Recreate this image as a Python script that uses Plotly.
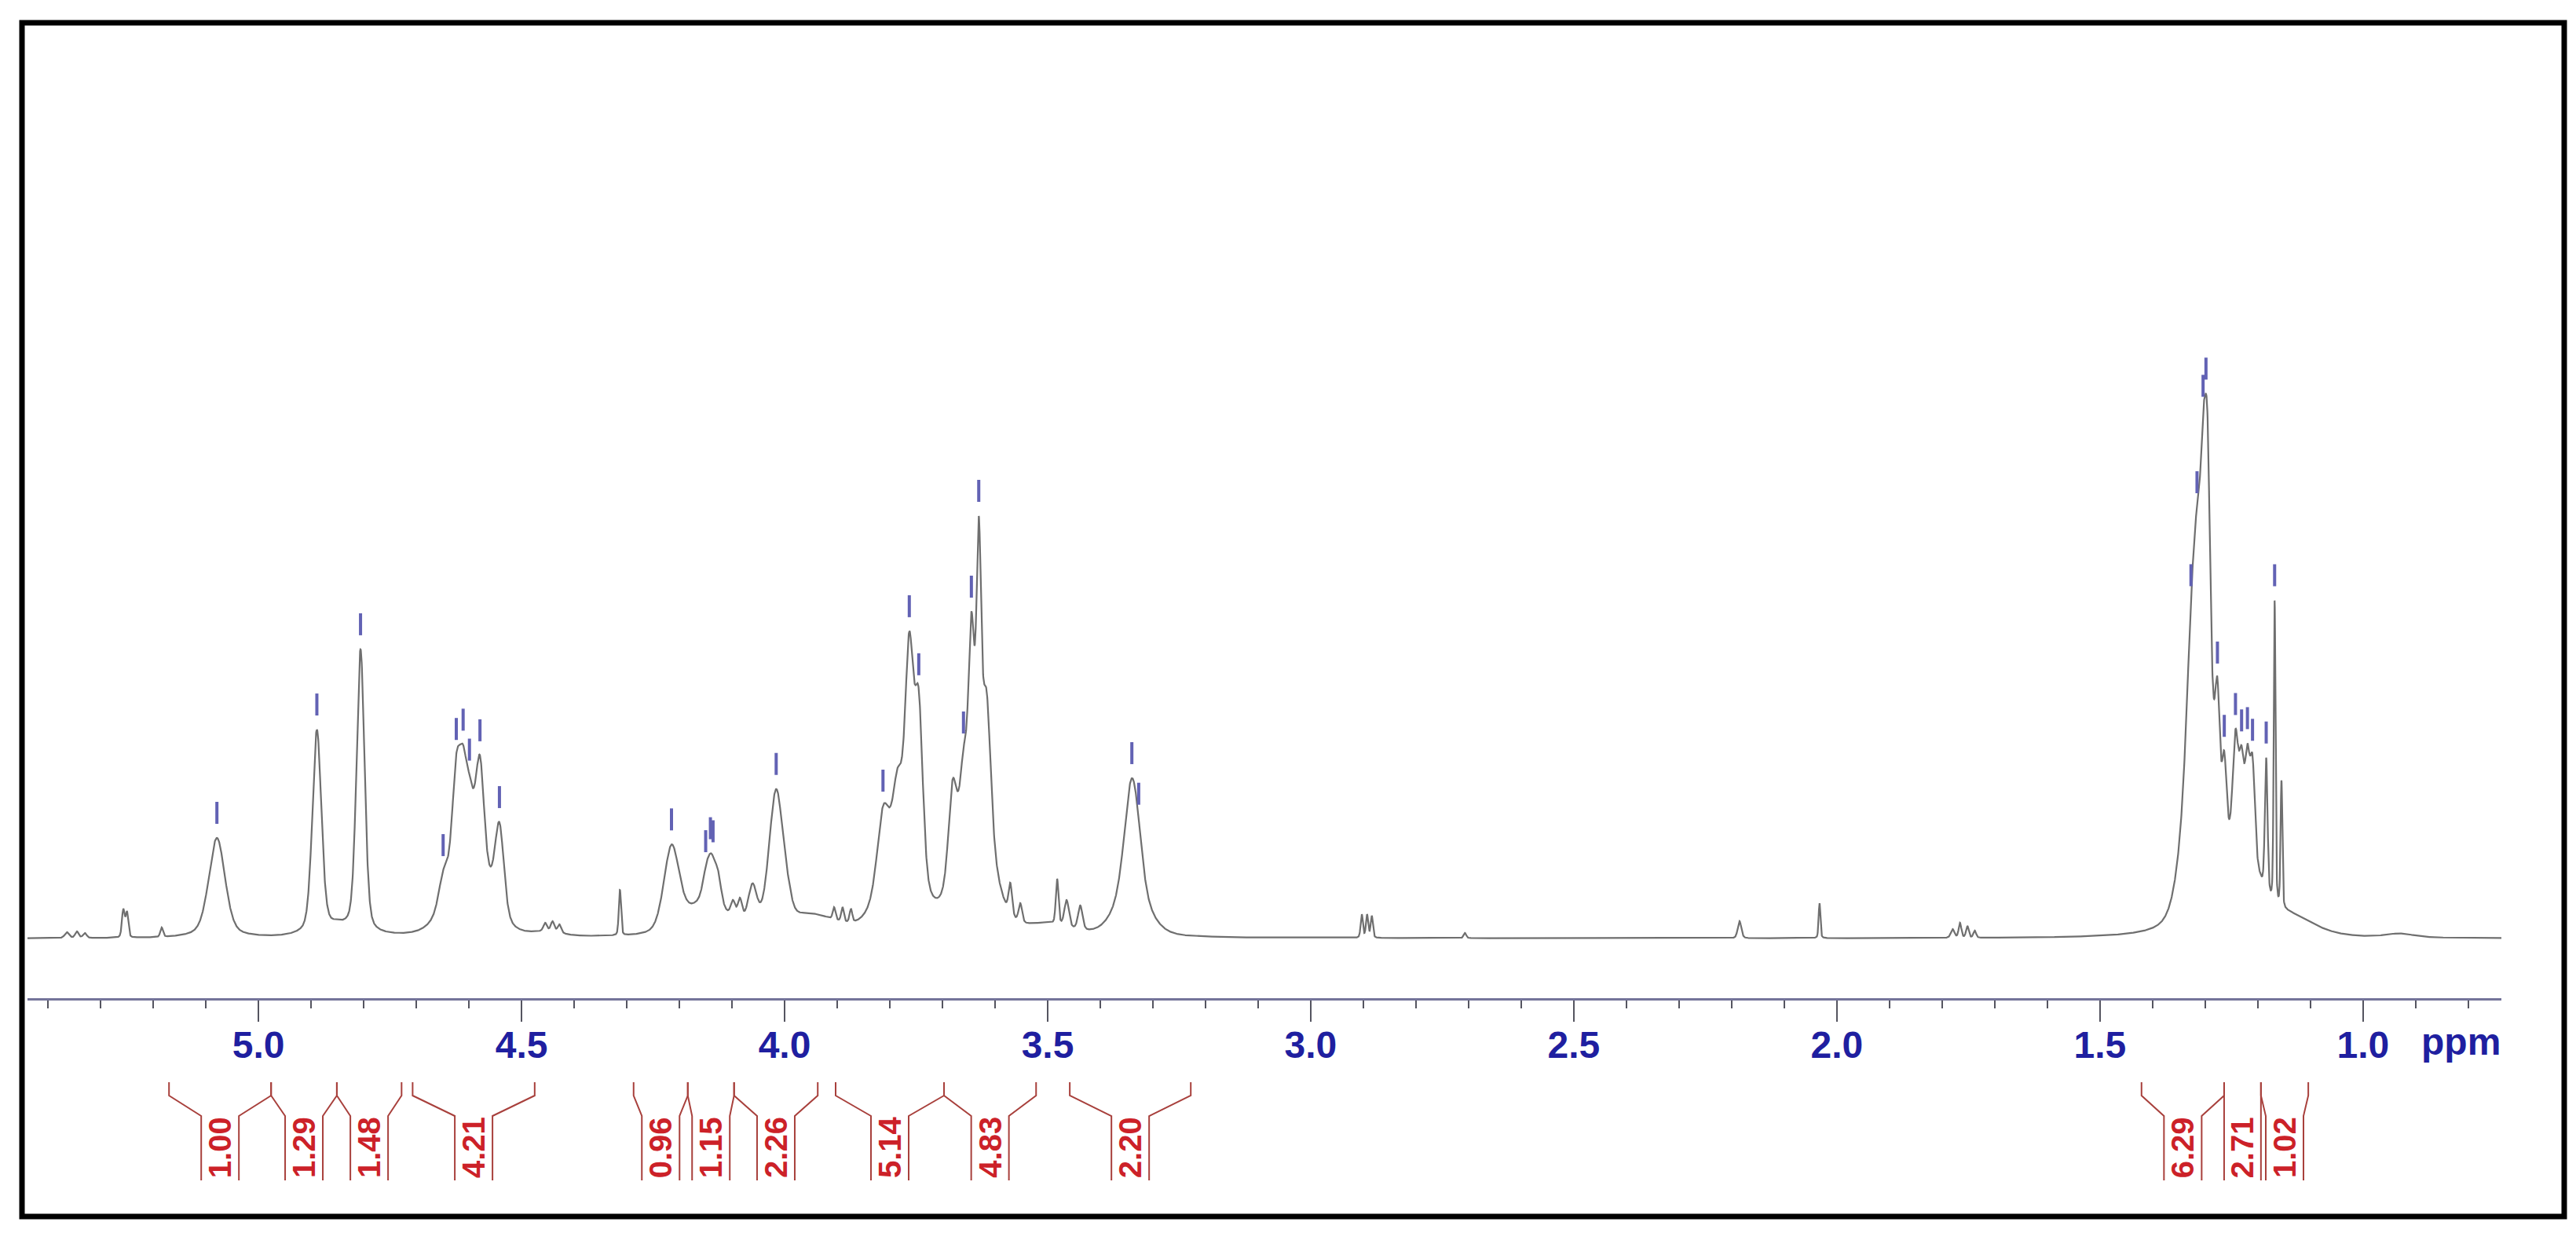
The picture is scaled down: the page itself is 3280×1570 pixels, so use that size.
import numpy as np
import plotly.graph_objects as go

# ---------------- data ----------------
PPM_LEFT = 5.439
PPM_RIGHT = 0.737

# resolved lines: position (ppm), height above baseline (px units), half width (ppm)
peak_ppm = [5.364, 5.345, 5.330, 5.257, 5.250, 5.184, 5.079, 4.889, 4.852, 4.806,
            4.649, 4.624, 4.611, 4.599, 4.579, 4.542, 4.455, 4.441, 4.428, 4.313,
            4.215, 4.150, 4.139, 4.126, 4.098, 4.085, 4.061, 4.016, 3.993, 3.906,
            3.890, 3.874, 3.813, 3.785, 3.763, 3.745, 3.681, 3.660, 3.645, 3.631,
            3.616, 3.571, 3.552, 3.482, 3.464, 3.438, 3.340, 3.326, 2.903, 2.893,
            2.884, 2.707, 2.185, 2.033, 1.780, 1.766, 1.752, 1.738, 1.327, 1.3155,
            1.304, 1.2955, 1.2767, 1.2637, 1.2424, 1.2308, 1.2197, 1.2100, 1.184, 1.168,
            1.155, 0.93]
peak_height = [8, 9, 7, 38, 35, 14, 128, 266, 25, 368,
               85, 235, 245, 218, 243, 146, 20, 22, 18, 62,
               122, 92, 108, 85, 48, 50, 65, 190, 78, 40,
               40, 38, 180, 220, 391, 317, 193, 243, 416, 538,
               318, 71, 45, 76, 49, 42, 204, 145, 31, 31,
               29, 7, 22, 45, 12, 20, 16, 10, 411, 553,
               671, 668, 355, 258, 276, 253, 258, 240, 230, 431,
               202, 6]
peak_hwhm = [0.005, 0.004, 0.004, 0.003, 0.003, 0.003, 0.018, 0.010, 0.006, 0.009,
             0.010, 0.009, 0.008, 0.008, 0.009, 0.010, 0.004, 0.004, 0.004, 0.0025,
             0.017, 0.008, 0.010, 0.007, 0.005, 0.005, 0.010, 0.016, 0.008, 0.003,
             0.003, 0.003, 0.013, 0.010, 0.009, 0.009, 0.009, 0.007, 0.006, 0.005,
             0.009, 0.004, 0.004, 0.003, 0.005, 0.005, 0.016, 0.010, 0.0025, 0.0025,
             0.0025, 0.003, 0.004, 0.002, 0.004, 0.003, 0.003, 0.003, 0.010, 0.008,
             0.006, 0.006, 0.005, 0.005, 0.006, 0.005, 0.005, 0.005, 0.003, 0.002,
             0.002, 0.03]

# broad underlying humps (position, half width)
hump_ppm = [5.08, 4.85, 4.60, 4.45, 4.15, 3.95, 3.78, 3.64, 3.50, 3.34, 1.31, 1.23, 1.15]
hump_hwhm = [0.05, 0.05, 0.04, 0.03, 0.05, 0.06, 0.04, 0.035, 0.05, 0.035, 0.028, 0.03, 0.06]

# profile points at valleys and flanks (ppm, height)
profile_ppm = [5.42, 5.30, 5.22, 5.13, 4.99, 4.860, 4.845, 4.76, 4.70, 4.67,
               4.589, 4.561, 4.518, 4.489, 4.38, 4.34, 4.29, 4.185, 4.109, 4.075,
               3.978, 3.963, 3.935, 3.840, 3.803, 3.710, 3.693, 3.604, 3.590, 3.582,
               3.521, 3.50, 3.40, 3.308, 3.297, 3.20, 3.00, 2.50, 1.60, 1.45,
               1.391, 1.372, 1.352, 1.339, 1.284, 1.270, 1.258, 1.237, 1.226, 1.215,
               1.197, 1.174, 1.161, 1.145, 1.113, 1.05, 0.95, 0.80]
profile_height = [0, 1, 1, 6, 9, 22, 25, 15, 12, 48,
                  168, 108, 28, 8, 0, 2, 5, 32, 50, 55,
                  40, 31, 25, 67, 147, 52, 125, 147, 63, 49,
                  22, 18, 30, 58, 13, 0, 0, 0, 0, 3,
                  8, 33, 125, 278, 280, 176, 171, 225, 220, 215,
                  125, 54, 43, 38, 23, 10, 6, 0]

# picked peaks (blue marks)
pick_ppm = [5.079, 4.889, 4.806, 4.649, 4.624, 4.611, 4.599, 4.579, 4.542, 4.215,
            4.150, 4.141, 4.136, 4.016, 3.813, 3.763, 3.745, 3.660, 3.645, 3.631,
            3.340, 3.327, 1.327, 1.3155, 1.304, 1.2985, 1.2767, 1.2637, 1.2424, 1.2308,
            1.2197, 1.2100, 1.184, 1.168]

# integrals: from / to (ppm) and value
int_from = [5.170, 4.976, 4.851, 4.707, 4.287, 4.184, 4.096, 3.903, 3.697, 3.458, 1.421, 1.264, 1.194]
int_to = [4.976, 4.851, 4.728, 4.475, 4.184, 4.096, 3.937, 3.697, 3.522, 3.228, 1.264, 1.194, 1.104]
int_value = ["1.00", "1.29", "1.48", "4.21", "0.96", "1.15", "2.26", "5.14", "4.83", "2.20", "6.29", "2.71", "1.02"]

# ---------------- line shape model ----------------
def lineshape(x, c, w, eta=0.3):
    d2 = ((x - c) / w) ** 2
    return eta / (1.0 + d2) + (1.0 - eta) * np.exp(-np.log(2.0) * d2)

comp_c = np.array(peak_ppm + hump_ppm, dtype=float)
comp_w = np.array(peak_hwhm + hump_hwhm, dtype=float)
tx = np.array(peak_ppm + profile_ppm, dtype=float)
ty = np.array(peak_height + profile_height, dtype=float)
M = lineshape(tx[:, None], comp_c[None, :], comp_w[None, :])
Q = M.T @ M
b = M.T @ ty
n = len(comp_c)
A = np.zeros(n)
A[:len(peak_ppm)] = np.array(peak_height, dtype=float) * 0.8
for _ in range(1500):
    for j in range(n):
        A[j] = max(0.0, A[j] + (b[j] - Q[j] @ A) / Q[j, j])

def spectrum(x):
    x = np.asarray(x, dtype=float)
    return (lineshape(x[:, None], comp_c[None, :], comp_w[None, :]) * A[None, :]).sum(axis=1)

xg = np.linspace(PPM_LEFT, PPM_RIGHT, 12000)
yg = spectrum(xg)

# ---------------- geometry helpers (pixel layout) ----------------
W, H = 3280, 1570
PL, PR, PT, PB = 27, 3177, 40, 1263   # plot area in px
def px_x(px):
    return (px - PL) / (PR - PL)
def px_y(py):
    return (PB - py) / (PB - PT)

fig = go.Figure()
fig.add_trace(go.Scatter(x=xg, y=yg, mode="lines",
                         line=dict(color="#6f6f6f", width=2.2),
                         hoverinfo="skip", showlegend=False))

# peak pick marks
ps = spectrum(np.array(pick_ppm))
mx, my = [], []
for p, s in zip(pick_ppm, ps):
    mx += [p, p, None]
    my += [s + 18, s + 46, None]
fig.add_trace(go.Scatter(x=mx, y=my, mode="lines",
                         line=dict(color="#6262b4", width=4),
                         hoverinfo="skip", showlegend=False))

shapes = []
annotations = []
neck_half = 24 / 670.0
y_top, y_bend, y_neck, y_bot = px_y(1370), px_y(1387), px_y(1413), px_y(1495)
for a, c, v in zip(int_from, int_to, int_value):
    mid = (a + c) / 2.0
    half = abs(a - c) / 2.0
    nh = min(neck_half, half)
    nl, nr = mid + nh, mid - nh
    path = (f"M {a},{y_top} L {a},{y_bend} L {nl},{y_neck} L {nl},{y_bot} "
            f"M {c},{y_top} L {c},{y_bend} L {nr},{y_neck} L {nr},{y_bot}")
    shapes.append(dict(type="path", path=path, xref="x", yref="paper",
                       line=dict(color="#a8403c", width=2)))
    annotations.append(dict(x=mid, y=px_y(1453), xref="x", yref="paper",
                            text=v, textangle=-90, showarrow=False,
                            xanchor="center", yanchor="middle",
                            font=dict(family="Liberation Sans, Arial", size=40,
                                      color="#cc2128", weight="bold")))

annotations.append(dict(x=0.8925, y=px_y(1318), xref="x", yref="paper",
                        text="ppm", showarrow=False, xanchor="left", yanchor="middle",
                        font=dict(family="Liberation Sans, Arial", size=48,
                                  color="#1f1fa0", weight="bold")))

# outer frame
shapes.append(dict(type="rect", xref="paper", yref="paper",
                   x0=px_x(20), x1=px_x(3257), y0=px_y(1541), y1=px_y(21),
                   line=dict(color="black", width=7), fillcolor="rgba(0,0,0,0)"))

fig.update_layout(
    width=W, height=H,
    margin=dict(l=PL, r=W - PR, t=PT, b=H - PB, pad=0),
    paper_bgcolor="white", plot_bgcolor="white",
    showlegend=False,
    shapes=shapes, annotations=annotations,
    xaxis=dict(range=[PPM_LEFT, PPM_RIGHT], showgrid=False, zeroline=False,
               showline=True, linecolor="#74749a", linewidth=3,
               ticks="outside", ticklen=27, tickwidth=2, tickcolor="#555560",
               tick0=0, dtick=0.5, tickformat=".1f", ticklabelstandoff=-12,
               tickfont=dict(family="Liberation Sans, Arial", size=48,
                             color="#1f1fa0", weight="bold"),
               minor=dict(dtick=0.1, ticks="outside", ticklen=10, tickwidth=2,
                          tickcolor="#555560", showgrid=False)),
    yaxis=dict(range=[-76, 1147], visible=False, showgrid=False, zeroline=False),
)

fig.write_html("out.html")
